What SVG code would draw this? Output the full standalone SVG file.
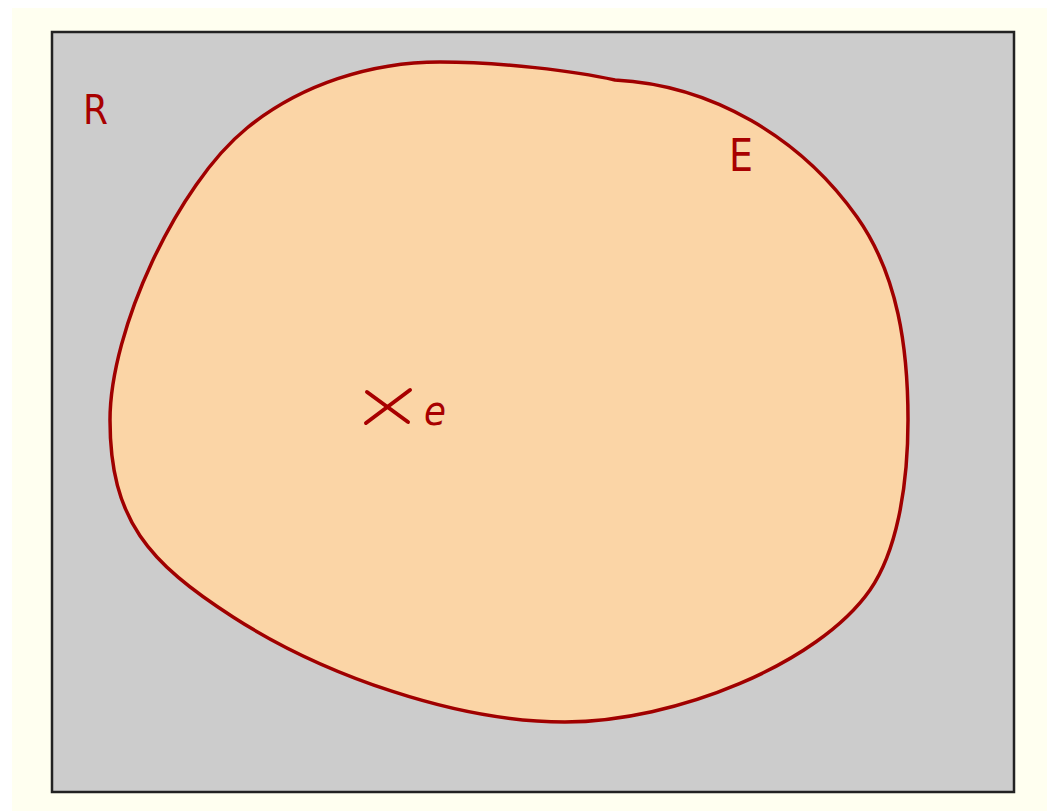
<svg xmlns="http://www.w3.org/2000/svg" width="1053" height="811" viewBox="0 0 1053 811">
<style>
.lbl{font-family:"Comic Sans MS","DejaVu Sans","Liberation Sans",sans-serif;fill:#a80000;}
</style>
<rect x="0" y="0" width="1053" height="811" fill="#ffffff"/>
<rect x="12" y="8" width="1035" height="803" fill="#fffff0"/>
<g id="R">
<rect x="52" y="32" width="962" height="760" fill="#cccccc" stroke="#222222" stroke-width="2.5"/>
<text class="lbl" x="83" y="124" font-size="40" textLength="25" lengthAdjust="spacingAndGlyphs">R</text>
</g>
<g id="E">
<path fill="#fbd5a6" stroke="#a00000" stroke-width="3.5" stroke-linejoin="round" d="M440,62 C500,62 575,71 615,80 C712,85 800.7,137.5 857,217 C898.2,275.2 908,349 908,420 C908,490 895.7,553.1 870,590 C818.5,663.8 675,722 565,722 C457,722 323.8,675.5 233,617 C148.9,562.8 110,520 110,420 C110,330 177.1,184.7 247,128 C300.6,84.5 371,62 440,62 Z"/>
<text class="lbl" x="729" y="171" font-size="44" textLength="24" lengthAdjust="spacingAndGlyphs">E</text>
</g>
<g id="e">
<path d="M367,392 L408,422 M410,390 L366,423" stroke="#a80000" stroke-width="4" stroke-linecap="round" fill="none"/>
<text class="lbl" x="424" y="425" font-size="40" font-style="italic" textLength="22" lengthAdjust="spacingAndGlyphs">e</text>
</g>
</svg>
